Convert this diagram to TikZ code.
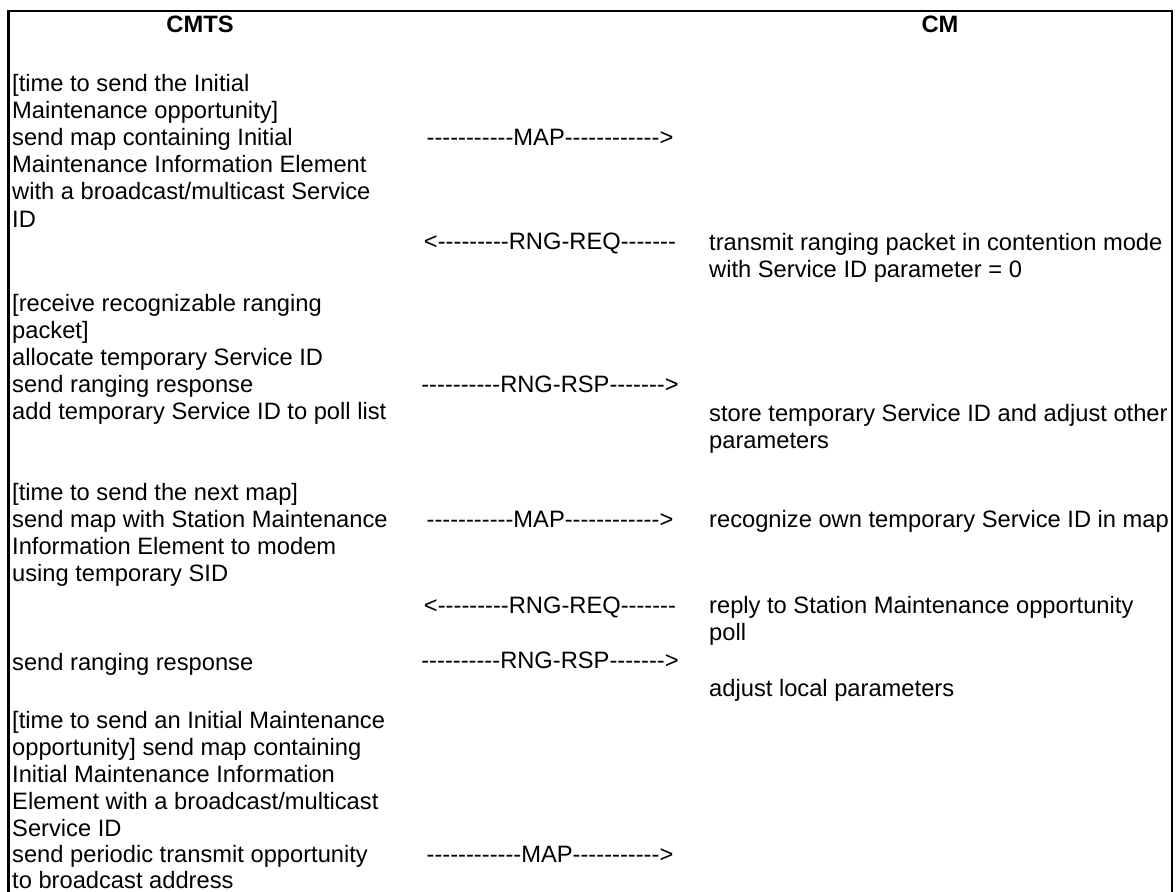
\documentclass[tikz,border=0pt]{standalone}
\usepackage{fontspec}
\setmainfont{Liberation Sans}
\newfontfamily\msgfont{Liberation Sans}[Ligatures=TeXOff]
\tikzset{
  txt/.style={anchor=base west, inner sep=0pt, font=\fontsize{23.7}{27.2}\selectfont},
  msg/.style={anchor=base, inner sep=0pt, font=\msgfont\fontsize{23.7}{27.2}\selectfont},
  head/.style={anchor=base, inner sep=0pt, font=\fontsize{23.7}{27.2}\selectfont\bfseries},
  frameline/.style={line width=2.3pt, line cap=rect}
}
\begin{document}
\begin{tikzpicture}[x=1pt,y=-1pt]
\useasboundingbox (0,0) rectangle (1176,892);
% headers
\node[head] (cmts) at (200,32) {CMTS};
\node[head] (cm) at (940,32) {CM};
% left column
\node[txt] (l1) at (12,91) {[time to send the Initial};
\node[txt] (l2) at (12,118.2) {Maintenance opportunity]};
\node[txt] (l3) at (12,145.4) {send map containing Initial};
\node[txt] (l4) at (12,172.6) {Maintenance Information Element};
\node[txt] (l5) at (12,199.8) {with a broadcast/multicast Service};
\node[txt] (l6) at (12,227) {ID};
\node[txt] (l7) at (12,311) {[receive recognizable ranging};
\node[txt] (l8) at (12,338.2) {packet]};
\node[txt] (l9) at (12,365.4) {allocate temporary Service ID};
\node[txt] (l10) at (12,392.6) {send ranging response};
\node[txt] (l11) at (12,419.8) {add temporary Service ID to poll list};
\node[txt] (l12) at (12,500) {[time to send the next map]};
\node[txt] (l13) at (12,527.2) {send map with Station Maintenance};
\node[txt] (l14) at (12,554.4) {Information Element to modem};
\node[txt] (l15) at (12,581.6) {using temporary SID};
\node[txt] (l16) at (12,670) {send ranging response};
\node[txt] (l17) at (12,728) {[time to send an Initial Maintenance};
\node[txt] (l18) at (12,755.2) {opportunity] send map containing};
\node[txt] (l19) at (12,782.4) {Initial Maintenance Information};
\node[txt] (l20) at (12,809.6) {Element with a broadcast/multicast};
\node[txt] (l21) at (12,836.8) {Service ID};
\node[txt] (l22) at (12,862) {send periodic transmit opportunity};
\node[txt] (l23) at (12,888.6) {to broadcast address};
% messages
\node[msg] (m1) at (550,145.4) {-----------MAP------------>};
\node[msg] (m2) at (550,249) {<---------RNG-REQ-------};
\node[msg] (m3) at (550,392.6) {----------RNG-RSP------->};
\node[msg] (m4) at (550,527.2) {-----------MAP------------>};
\node[msg] (m5) at (550,613) {<---------RNG-REQ-------};
\node[msg] (m6) at (550,668) {----------RNG-RSP------->};
\node[msg] (m7) at (550,862) {------------MAP----------->};
% right column
\node[txt] (r1) at (709,250) {transmit ranging packet in contention mode};
\node[txt] (r2) at (709,277.2) {with Service ID parameter = 0};
\node[txt] (r3) at (709,421) {store temporary Service ID and adjust other};
\node[txt] (r4) at (709,448.2) {parameters};
\node[txt] (r5) at (709,527.2) {recognize own temporary Service ID in map};
\node[txt] (r6) at (709,613) {reply to Station Maintenance opportunity};
\node[txt] (r7) at (709,640.2) {poll};
\node[txt] (r8) at (709,696) {adjust local parameters};
% frame
\coordinate (bl) at (8.5,893);
\coordinate (tl) at (8.5,11);
\coordinate (tr) at (1172,11);
\coordinate (br) at (1172,893);
\draw[frameline] (bl) -- (tl) -- (tr) -- (br);
\end{tikzpicture}
\end{document}
